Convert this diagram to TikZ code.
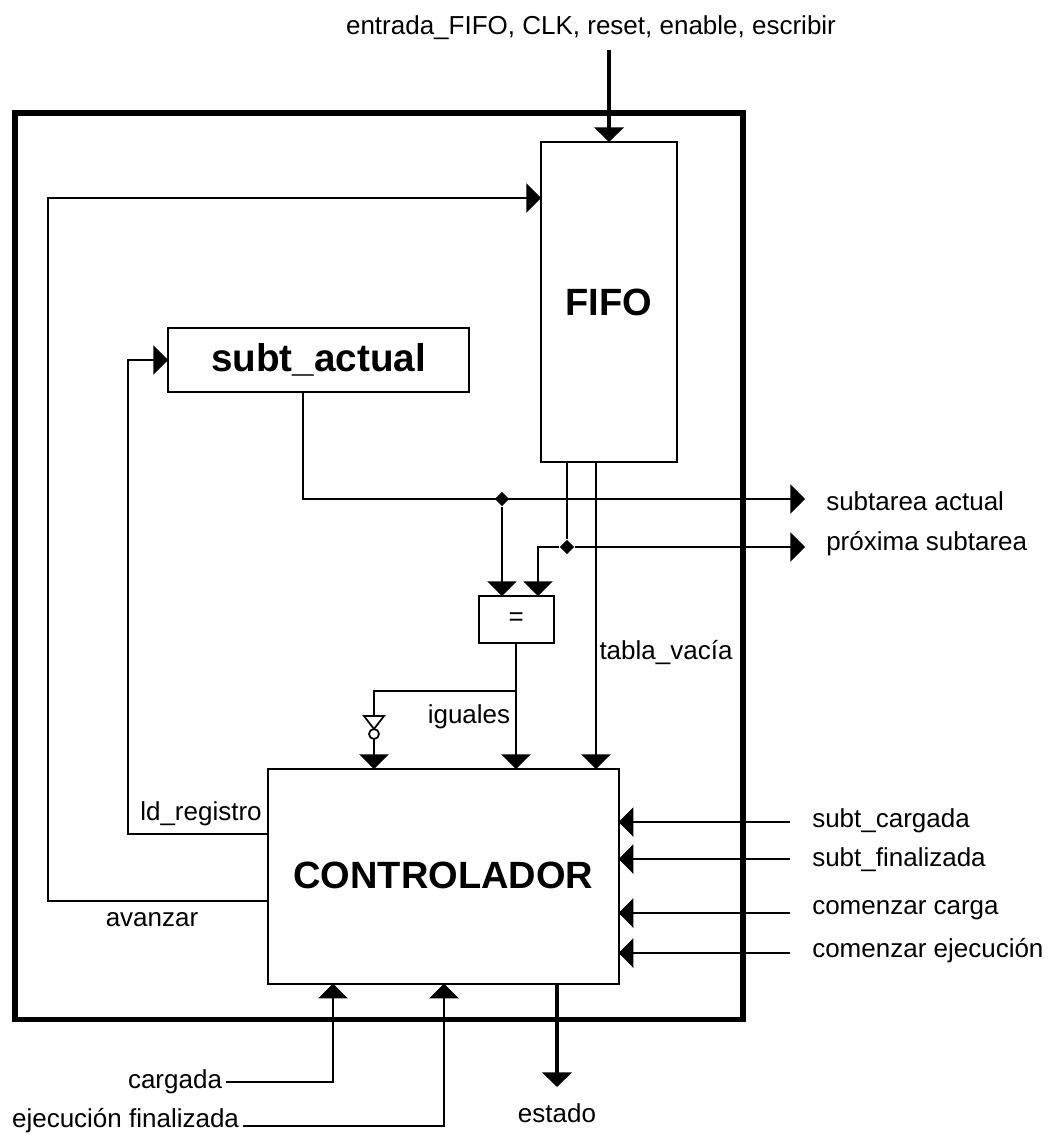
\documentclass[tikz,border=0pt]{standalone}
\usepackage{fontspec}
\setmainfont{Liberation Sans}
\usetikzlibrary{arrows.meta,shapes.geometric}

\begin{document}
\begin{tikzpicture}[
    x=0.75pt, y=-0.75pt,
    blk/.style={draw, line width=1.5pt, fill=white, inner sep=0pt, outer sep=0pt, anchor=north west},
    title/.style={font=\fontsize{28.5}{30}\selectfont\bfseries},
    lbl/.style={font=\fontsize{19.5}{21}\selectfont, inner sep=0pt},
    wire/.style={line width=1.3pt},
    arr/.style={wire, -{Triangle[length=11pt, width=22pt]}},
    harr/.style={line width=3.6pt, -{Triangle[length=11pt, width=22pt]}},
    dot/.style={diamond, fill=black, inner sep=0pt, minimum size=11pt},
  ]
  \useasboundingbox (0,0) rectangle (1047,1135);

  % --- outer box ---
  \node[blk, line width=4pt, minimum width=546pt, minimum height=680pt] (outer) at (15,113) {};

  % --- blocks ---
  \node[blk, title, minimum width=102pt, minimum height=240pt] (fifo) at (541,142) {FIFO};
  \node[blk, title, font=\fontsize{29}{30}\selectfont\bfseries, minimum width=226pt, minimum height=48pt] (subt) at (168,328) {subt\_actual};
  \node[blk, lbl, minimum width=56pt, minimum height=35pt, line width=1.5pt] (cmp) at (479,596) {\raisebox{-2pt}{=}};
  \node[blk, title, minimum width=263pt, minimum height=161pt] (ctrl) at (268,769) {\raisebox{1.5pt}{CONTROLADOR}};

  % --- outside labels ---
  \node[lbl] (top) at (591,28) {entrada\_FIFO, CLK, reset, enable, escribir};
  \node[lbl, anchor=west] (sa) at (826,501) {subtarea actual};
  \node[lbl, anchor=west] (ps) at (826,544) {próxima subtarea};
  \node[lbl, anchor=west] (sc) at (812,821) {subt\_cargada};
  \node[lbl, anchor=west] (sf) at (812,860) {subt\_finalizada};
  \node[lbl, anchor=west] (cc) at (812,910) {comenzar carga};
  \node[lbl, anchor=west] (ce) at (812,951) {comenzar ejecución};
  \node[lbl, anchor=east, outer sep=3pt] (cg) at (226,1082) {cargada};
  \node[lbl, anchor=east, outer sep=3pt] (ef) at (243,1121) {ejecución finalizada};
  \node[lbl] (es) at (557,1113) {estado};

  % --- inside labels ---
  \node[lbl] (lv) at (666,653) {tabla\_vacía};
  \node[lbl] (ig) at (469,717) {iguales};
  \node[lbl] (ld) at (201,814) {ld\_registro};
  \node[lbl] (av) at (152,920) {avanzar};

  % --- junctions ---
  \node[dot] (j1) at (502,499) {};
  \node[dot] (j2) at (567,547) {};

  % --- free ends ---
  \coordinate (sae) at (805,499);
  \coordinate (pse) at (805,547);

  % --- arrows ---
  \draw[harr] (609,50) -- (fifo.north -| 609,0);
  \draw[harr] (ctrl.south -| 557,0) -- (557,1087);
  \draw[arr] (ctrl.west |- 0,901) -- (48,901) |- (fifo.west |- 0,198);
  \draw[arr] (ctrl.west |- 0,834) -- (128,834) |- (subt.west |- 0,360);
  \draw[arr] (subt.south -| 303,0) |- (sae);
  \draw[arr] (j1) -- (cmp.north -| j1);
  \draw[wire] (fifo.south -| j2) -- (j2);
  \draw[arr] (j2) -- (538,547) -- (cmp.north -| 538,0);
  \draw[arr] (j2) -- (pse);
  \draw[arr] (fifo.south -| 596,0) -- (ctrl.north -| 596,0);
  \draw[arr] (cmp.south -| 516,0) -- (ctrl.north -| 516,0);
  \draw[arr] (516,691) -- (374,691) -- (ctrl.north -| 374,0);
  \draw[arr] (790,822) -- (ctrl.east |- 0,822);
  \draw[arr] (790,859) -- (ctrl.east |- 0,859);
  \draw[arr] (790,913) -- (ctrl.east |- 0,913);
  \draw[arr] (790,953) -- (ctrl.east |- 0,953);
  \draw[arr] (cg.east |- 0,1082) -- (333,1082) -- (ctrl.south -| 333,0);
  \draw[arr] (ef.east |- 0,1126) -- (444,1126) -- (ctrl.south -| 444,0);

  % --- inverter ---
  \draw[wire, fill=white] (364,716) -- (384,716) -- (374,729) -- cycle;
  \draw[wire, fill=white] (374,734) circle (5);
\end{tikzpicture}
\end{document}
